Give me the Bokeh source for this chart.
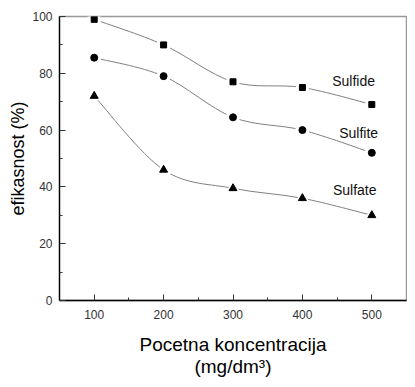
from bokeh.plotting import figure
from bokeh.models import FixedTicker, Range1d, Label
from bokeh.embed import file_html
from bokeh.resources import INLINE

# Data
conc = [100, 200, 300, 400, 500]
sulfide = [99, 90, 77, 75, 69]
sulfite = [85.5, 79, 64.5, 60, 52]
sulfate = [72, 46, 39.5, 36, 30]
series_names = ["Sulfide", "Sulfite", "Sulfate"]
x_ticks = [100, 200, 300, 400, 500]
y_ticks = [0, 20, 40, 60, 80, 100]

FONT = "Liberation Sans"

p = figure(width=407, height=379, output_backend="svg", toolbar_location=None,
           x_range=Range1d(50, 550), y_range=Range1d(0, 100),
           min_border_left=59, min_border_right=1, min_border_top=16,
           min_border_bottom=79)
p.background_fill_color = "white"
p.border_fill_color = "white"
p.outline_line_color = "#999999"
p.outline_line_width = 1.5
p.xgrid.visible = False
p.ygrid.visible = False


def smooth(xs, ys):
    # Catmull-Rom segments converted to cubic Bezier control points
    n = len(xs)
    x0, y0, x1, y1, cx0, cy0, cx1, cy1 = ([] for _ in range(8))
    for i in range(n - 1):
        im = max(i - 1, 0)
        ip = min(i + 2, n - 1)
        x0.append(xs[i]); y0.append(ys[i])
        x1.append(xs[i + 1]); y1.append(ys[i + 1])
        cx0.append(xs[i] + (xs[i + 1] - xs[im]) / 6.0)
        cy0.append(ys[i] + (ys[i + 1] - ys[im]) / 6.0)
        cx1.append(xs[i + 1] - (xs[ip] - xs[i]) / 6.0)
        cy1.append(ys[i + 1] - (ys[ip] - ys[i]) / 6.0)
    return dict(x0=x0, y0=y0, x1=x1, y1=y1, cx0=cx0, cy0=cy0, cx1=cx1, cy1=cy1)


styles = [("square", 6), ("circle", 7), ("triangle", 8)]
for ys, (marker, size) in zip([sulfide, sulfite, sulfate], styles):
    p.bezier(line_color="#808080", line_width=1, **smooth(conc, ys))
for ys, (marker, size) in zip([sulfide, sulfite, sulfate], styles):
    p.scatter(conc, ys, marker=marker, size=size + 7, fill_color="white",
              line_color=None)
    p.scatter(conc, ys, marker=marker, size=size, fill_color="black",
              line_color="black")

# Axes
for ax in (p.xaxis[0], p.yaxis[0]):
    ax.axis_line_color = "black"
    ax.axis_line_width = 1.3
    ax.major_tick_in = 6
    ax.major_tick_out = 0
    ax.minor_tick_in = 3
    ax.minor_tick_out = 0
    ax.major_tick_line_color = "#333333"
    ax.minor_tick_line_color = "#333333"
    ax.major_label_text_font = FONT
    ax.major_label_text_font_size = "12px"
    ax.major_label_text_color = "#333333"
    ax.major_label_standoff = 7
    ax.axis_label_text_font = FONT
    ax.axis_label_text_font_style = "normal"
    ax.axis_label_text_color = "black"
p.xaxis.major_label_standoff = 9

p.xaxis.ticker = FixedTicker(ticks=x_ticks, minor_ticks=[150, 250, 350, 450])
p.yaxis.ticker = FixedTicker(ticks=y_ticks, minor_ticks=[10, 30, 50, 70, 90])

p.yaxis.axis_label = "efikasnost (%)"
p.yaxis.axis_label_text_font_size = "18px"
p.yaxis.axis_label_standoff = 1

p.xaxis.axis_label = "Pocetna koncentracija\n(mg/dm\u00b3)"
p.xaxis.axis_label_text_font_size = "19px"
p.xaxis.axis_label_text_align = "center"
p.xaxis.axis_label_text_line_height = 1.05
p.xaxis.axis_label_standoff = 12

# Series labels
label_pos = [(443, 77.4), (453, 59), (444, 38.9)]
for name, (lx, ly) in zip(series_names, label_pos):
    p.add_layout(Label(x=lx, y=ly, text=name, text_font=FONT,
                       text_font_size="14px", text_color="#111111",
                       text_baseline="middle", text_align="left"))

open("out.html", "w").write(file_html(p, INLINE))
